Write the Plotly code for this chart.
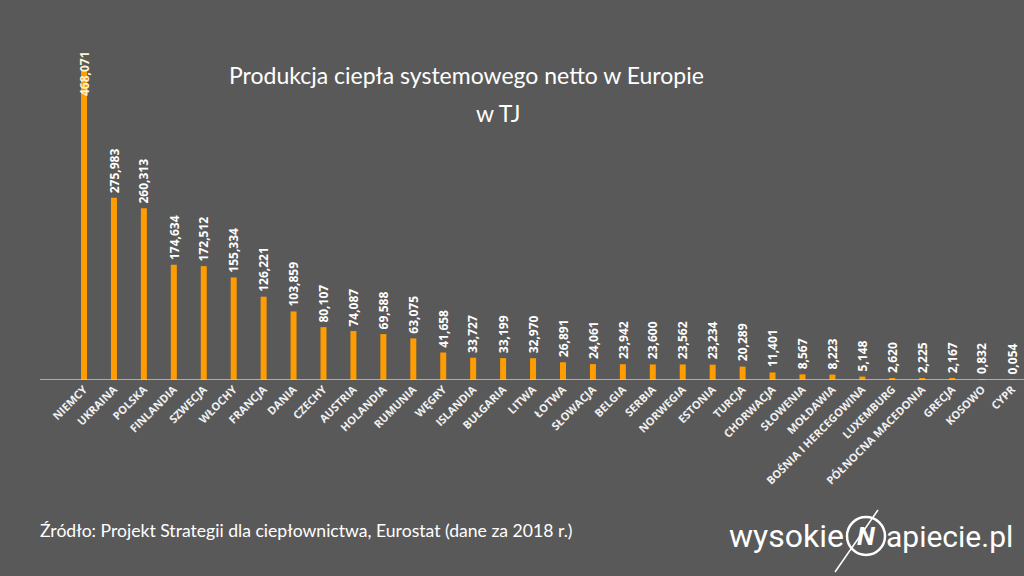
import plotly.graph_objects as go

countries = ["NIEMCY", "UKRAINA", "POLSKA", "FINLANDIA", "SZWECJA", "WŁOCHY", "FRANCJA", "DANIA",
             "CZECHY", "AUSTRIA", "HOLANDIA", "RUMUNIA", "WĘGRY", "ISLANDIA", "BUŁGARIA", "LITWA",
             "ŁOTWA", "SŁOWACJA", "BELGIA", "SERBIA", "NORWEGIA", "ESTONIA", "TURCJA", "CHORWACJA",
             "SŁOWENIA", "MOŁDAWIA", "BOŚNIA I HERCEGOWINA", "LUXEMBURG", "PÓŁNOCNA MACEDONIA",
             "GRECJA", "KOSOWO", "CYPR"]
values = [468.071, 275.983, 260.313, 174.634, 172.512, 155.334, 126.221, 103.859,
          80.107, 74.087, 69.588, 63.075, 41.658, 33.727, 33.199, 32.970,
          26.891, 24.061, 23.942, 23.600, 23.562, 23.234, 20.289, 11.401,
          8.567, 8.223, 5.148, 2.620, 2.225, 2.167, 0.832, 0.054]
labels = [f"{v:.3f}".replace(".", ",") for v in values]

title_line1 = "Produkcja ciepła systemowego netto w Europie"
title_line2 = "w TJ"
source_text = "Źródło: Projekt Strategii dla ciepłownictwa, Eurostat (dane za 2018 r.)"

W, H = 1024, 576
ML, MR, MT, MB = 40, 0, 50, 196
PW, PH = W - ML - MR, H - MT - MB


def px(x):
    return (x - ML) / PW


def py(y):
    return (H - MB - y) / PH


BG = "#595959"
ORANGE = "#FF9C00"

fig = go.Figure()
fig.add_trace(go.Bar(x=countries, y=values, marker_color=ORANGE, width=0.2,
                     marker_line_width=0, hoverinfo="skip"))

annotations = []
for i, (c, v, t) in enumerate(zip(countries, values, labels)):
    if i == 0:
        annotations.append(dict(x=c, y=v, xref="x", yref="y", text=f"<b>{t}</b>", showarrow=False,
                                textangle=-90, yanchor="middle", xanchor="center", yshift=-3,
                                font=dict(family="Open Sans", size=12, color="#FFF5D6")))
    else:
        annotations.append(dict(x=c, y=v, xref="x", yref="y", text=f"<b>{t}</b>", showarrow=False,
                                textangle=-90, yanchor="bottom", xanchor="center", yshift=3,
                                font=dict(family="Open Sans", size=12, color="white")))

annotations += [
    dict(x=px(466), y=py(75), xref="paper", yref="paper", text=title_line1, showarrow=False,
         xanchor="center", yanchor="middle", font=dict(family="Lato", size=23, color="white")),
    dict(x=px(498), y=py(113), xref="paper", yref="paper", text=title_line2, showarrow=False,
         xanchor="center", yanchor="middle", font=dict(family="Lato", size=23, color="white")),
    dict(x=px(38), y=py(530), xref="paper", yref="paper", text=source_text, showarrow=False,
         xanchor="left", yanchor="middle", font=dict(family="Lato", size=17.6, color="white")),
    dict(x=px(846), y=py(536), xref="paper", yref="paper", text="wysokie", showarrow=False,
         xanchor="right", yanchor="middle", font=dict(family="Roboto", size=32, color="white")),
    dict(x=px(884), y=py(536), xref="paper", yref="paper", text="apiecie.pl", showarrow=False,
         xanchor="left", yanchor="middle", font=dict(family="Roboto", size=30, color="white")),
    dict(x=px(866), y=py(536), xref="paper", yref="paper", text="<b><i>N</i></b>", showarrow=False,
         xanchor="center", yanchor="middle", font=dict(family="Roboto", size=26, color="white")),
]

shapes = [
    dict(type="circle", xref="paper", yref="paper", x0=px(847), x1=px(885), y0=py(555), y1=py(517),
         line=dict(color="white", width=2.5)),
    dict(type="line", xref="paper", yref="paper", x0=px(835), x1=px(878), y0=py(572), y1=py(510),
         line=dict(color="white", width=1.5)),
]

fig.update_layout(
    width=W, height=H,
    paper_bgcolor=BG, plot_bgcolor=BG,
    margin=dict(l=ML, r=MR, t=MT, b=MB),
    showlegend=False,
    bargap=0.8,
    xaxis=dict(range=[-1.47, 31.4], showgrid=False, zeroline=False, showline=False,
               tickangle=-45, ticks="",
               tickfont=dict(family="Open Sans", size=11, color="#F0F0F0", weight="bold")),
    yaxis=dict(range=[0, 500], showgrid=False, zeroline=False, showline=False,
               showticklabels=False, ticks=""),
    annotations=annotations,
    shapes=shapes + [dict(type="line", xref="paper", yref="y", x0=0, x1=1, y0=0, y1=0,
                          line=dict(color="#C8C8C8", width=1.5))],
)

fig.write_html("out.html")
